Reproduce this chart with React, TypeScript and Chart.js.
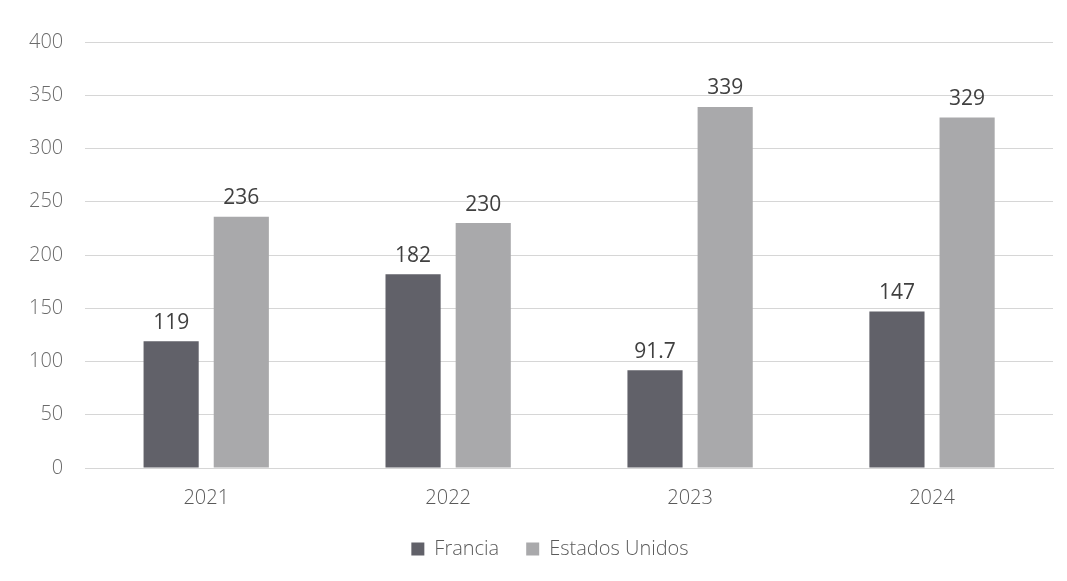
import React, { useEffect, useRef } from "react";
import { Chart, registerables } from "chart.js";

Chart.register(...registerables);

const categories = ["2021", "2022", "2023", "2024"];
const francia = [119, 182, 91.7, 147];
const estadosUnidos = [236, 230, 339, 329];
const franciaLabels = ["119", "182", "91.7", "147"];
const estadosLabels = ["236", "230", "339", "329"];

const valueLabels = {
  id: "valueLabels",
  afterDatasetsDraw(chart: any) {
    const ctx = chart.ctx;
    ctx.save();
    ctx.font = "21px 'Open Sans'";
    ctx.fillStyle = "#404040";
    ctx.textAlign = "center";
    ctx.textBaseline = "bottom";
    const sets = [franciaLabels, estadosLabels];
    chart.data.datasets.forEach((ds: any, i: number) => {
      const meta = chart.getDatasetMeta(i);
      meta.data.forEach((bar: any, j: number) => {
        ctx.fillText(sets[i][j], bar.x, bar.y - 8);
      });
    });
    ctx.restore();
  },
};

const legendShift = {
  id: "legendShift",
  afterLayout(chart: any) {
    const l = chart.legend;
    if (l) {
      l.left += 20;
      l.right += 20;
    }
  },
};

export default function App() {
  const ref = useRef<HTMLCanvasElement>(null);
  useEffect(() => {
    const chart = new Chart(ref.current!, {
      type: "bar",
      data: {
        labels: categories,
        datasets: [
          {
            label: "Francia",
            data: francia,
            backgroundColor: "#616169",
            categoryPercentage: 0.58,
            barPercentage: 0.786,
          },
          {
            label: "Estados Unidos",
            data: estadosUnidos,
            backgroundColor: "#a9a9ab",
            categoryPercentage: 0.58,
            barPercentage: 0.786,
          },
        ],
      },
      options: {
        animation: false,
        responsive: true,
        maintainAspectRatio: false,
        layout: { padding: { top: 42, right: 14, left: 7, bottom: 12 } },
        scales: {
          y: {
            min: 0,
            max: 400,
            ticks: {
              stepSize: 50,
              color: "#6b6b6b",
              font: { size: 20, family: "'Open Sans'", weight: "300" },
              padding: 22,
            },
            grid: { color: "#d6d6d6", drawTicks: false },
            border: { display: false },
          },
          x: {
            afterFit: (scale: any) => {
              scale.height = 44;
            },
            ticks: {
              color: "#5a5a5a",
              font: { size: 20, family: "'Open Sans'", weight: "300" },
              padding: 18,
            },
            grid: { display: false, drawTicks: false },
            border: { color: "#d6d6d6" },
          },
        },
        plugins: {
          legend: {
            position: "bottom",
            labels: {
              color: "#5a5a5a",
              font: { size: 20, family: "'Open Sans'", weight: "300" },
              boxWidth: 13,
              boxHeight: 13,
              padding: 27,
            },
          },
          tooltip: { enabled: false },
        },
      },
      plugins: [valueLabels, legendShift],
    });
    return () => chart.destroy();
  }, []);
  return (
    <div style={{ position: "fixed", left: 0, top: 0, width: 1067, height: 581, background: "#fff" }}>
      <canvas ref={ref} />
    </div>
  );
}
